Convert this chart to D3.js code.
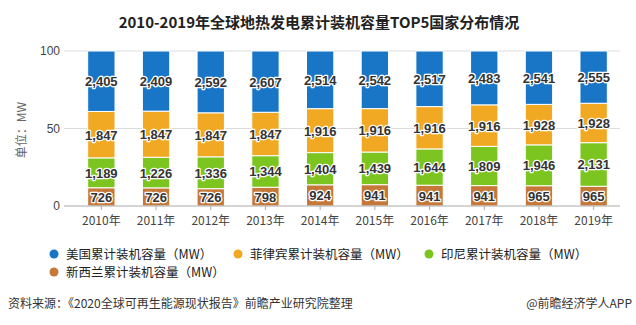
<!DOCTYPE html>
<html>
<head>
<meta charset="utf-8">
<script src="https://cdn.jsdelivr.net/npm/d3@7"></script>
<style>
  body { margin: 0; background: #fff; }
  svg { display: block; font-family: "Noto Sans CJK SC", "Liberation Sans", sans-serif; }
</style>
</head>
<body>
<script>
const years = ["2010年", "2011年", "2012年", "2013年", "2014年", "2015年", "2016年", "2017年", "2018年", "2019年"];
const usa = [2405, 2409, 2592, 2607, 2514, 2542, 2517, 2483, 2541, 2555];
const philippines = [1847, 1847, 1847, 1847, 1916, 1916, 1916, 1916, 1928, 1928];
const indonesia = [1189, 1226, 1336, 1344, 1404, 1439, 1644, 1809, 1946, 2131];
const newZealand = [726, 726, 726, 798, 924, 941, 941, 941, 965, 965];
const seriesNames = ["美国累计装机容量（MW）", "菲律宾累计装机容量（MW）", "印尼累计装机容量（MW）", "新西兰累计装机容量（MW）"];
const yTicks = [0, 50, 100];

const width = 636;
const height = 325;
const colors = ["#1976c6", "#f1a923", "#7cc520", "#c57838"];

// stack bottom -> top: NZ, Indonesia, Philippines, USA
const stackOrder = [3, 2, 1, 0];
const seriesValues = [usa, philippines, indonesia, newZealand];

const rows = years.map((year, i) => {
  const row = { year };
  seriesValues.forEach((vals, s) => { row[s] = vals[i]; });
  return row;
});

const stack = d3.stack()
  .keys(stackOrder)
  .offset(d3.stackOffsetExpand);
const layers = stack(rows);

const x = d3.scaleBand().domain(years).range([74, 621]).paddingInner(0.5).paddingOuter(0.25);
const y = d3.scaleLinear().domain([0, 100]).range([206, 51]);

const svg = d3.select("body").append("svg")
  .attr("width", width)
  .attr("height", height);

// title
svg.append("text")
  .attr("x", 319)
  .attr("y", 28)
  .attr("text-anchor", "middle")
  .attr("style", "font-size: 15px; font-weight: bold; fill: #222;")
  .text("2010-2019年全球地热发电累计装机容量TOP5国家分布情况");

// gridlines
svg.selectAll(".grid")
  .data(yTicks.filter(t => t > 0))
  .enter().append("line")
  .attr("x1", 64).attr("x2", 620)
  .attr("y1", d => y(d)).attr("y2", d => y(d))
  .attr("stroke", "#dcdcdc");

svg.selectAll(".yLabel")
  .data(yTicks)
  .enter().append("text")
  .attr("x", 60)
  .attr("y", d => y(d) + 4)
  .attr("text-anchor", "end")
  .attr("style", "font-size: 12px; fill: #444; font-family: 'Liberation Sans', sans-serif;")
  .text(d => d);

svg.append("text")
  .attr("transform", "translate(26,130) rotate(-90)")
  .attr("text-anchor", "middle")
  .attr("style", "font-size: 12px; fill: #666;")
  .text("单位：MW");

// bars
const layerG = svg.selectAll(".layer")
  .data(layers)
  .enter().append("g")
  .attr("fill", d => colors[d.key]);

layerG.selectAll("rect")
  .data(d => d)
  .enter().append("rect")
  .attr("x", d => x(d.data.year))
  .attr("width", x.bandwidth())
  .attr("y", d => y(d[1] * 100))
  .attr("height", d => y(d[0] * 100) - y(d[1] * 100))
  .attr("stroke", "#fff")
  .attr("stroke-width", 1);

// value labels
layers.forEach(layer => {
  svg.selectAll(null)
    .data(layer)
    .enter().append("text")
    .attr("x", d => x(d.data.year) + x.bandwidth() / 2)
    .attr("y", d => y((d[0] + d[1]) * 50) + 5)
    .attr("text-anchor", "middle")
    .attr("style", "font-size: 13px; font-weight: bold; font-family: 'Liberation Sans', sans-serif; fill: #333; stroke: #fff; stroke-width: 2.5px; paint-order: stroke; stroke-linejoin: round;")
    .text(d => d3.format(",")(d.data[layer.key]));
});

// x axis
svg.append("line")
  .attr("x1", 64).attr("x2", 620)
  .attr("y1", y(0)).attr("y2", y(0))
  .attr("stroke", "#aaa");

svg.selectAll(".xTick")
  .data(years)
  .enter().append("line")
  .attr("x1", d => x(d) + x.bandwidth() / 2)
  .attr("x2", d => x(d) + x.bandwidth() / 2)
  .attr("y1", y(0)).attr("y2", y(0) + 4)
  .attr("stroke", "#aaa");

svg.selectAll(".xLabel")
  .data(years)
  .enter().append("text")
  .attr("x", d => x(d) + x.bandwidth() / 2)
  .attr("y", 225)
  .attr("text-anchor", "middle")
  .attr("style", "font-size: 12px; fill: #444;")
  .text(d => d);

// legend
const legendPos = [[54, 254], [238, 254], [429, 254], [54, 272]];
const legend = svg.selectAll(".legend")
  .data(seriesNames)
  .enter().append("g")
  .attr("transform", (d, i) => `translate(${legendPos[i][0]},${legendPos[i][1]})`);

legend.append("circle")
  .attr("r", 4.5)
  .attr("fill", (d, i) => colors[i]);

legend.append("text")
  .attr("x", 12)
  .attr("y", 4.5)
  .attr("style", "font-size: 12.5px; fill: #222;")
  .text(d => d);

// footer
svg.append("text")
  .attr("x", 8)
  .attr("y", 308)
  .attr("style", "font-size: 12px; fill: #333;")
  .text("资料来源：《2020全球可再生能源现状报告》前瞻产业研究院整理");

svg.append("text")
  .attr("x", 632)
  .attr("y", 308)
  .attr("text-anchor", "end")
  .attr("style", "font-size: 12px; fill: #333;")
  .text("@前瞻经济学人APP");
</script>
</body>
</html>
